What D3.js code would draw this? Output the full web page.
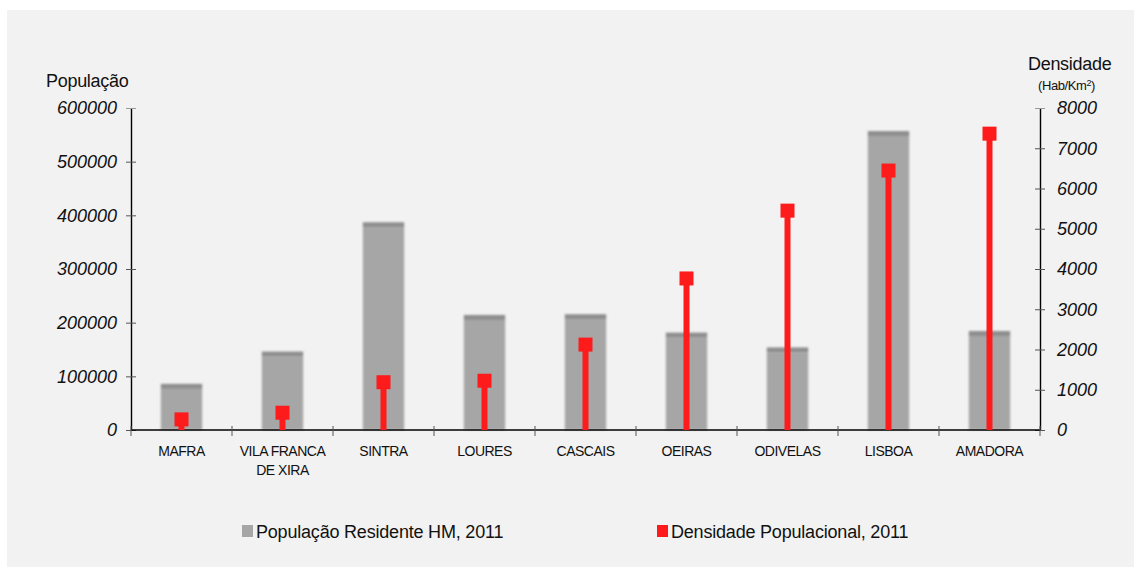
<!DOCTYPE html>
<html>
<head>
<meta charset="utf-8">
<script src="https://cdn.jsdelivr.net/npm/d3@7"></script>
<style>
  html, body { margin: 0; padding: 0; background: #fff; }
  svg text { font-family: "Liberation Sans", Arial, sans-serif; fill: #111; }
</style>
</head>
<body>
<script>
// data
const concelhos = ["MAFRA", "VILA FRANCA DE XIRA", "SINTRA", "LOURES", "CASCAIS", "OEIRAS", "ODIVELAS", "LISBOA", "AMADORA"];
const labelLines = [["MAFRA"], ["VILA FRANCA", "DE XIRA"], ["SINTRA"], ["LOURES"], ["CASCAIS"], ["OEIRAS"], ["ODIVELAS"], ["LISBOA"], ["AMADORA"]];
const populacao = [76685, 136886, 377835, 205054, 206479, 172120, 144549, 547733, 175136];
const densidade = [264, 429, 1187, 1224, 2122, 3765, 5450, 6446, 7363];
const popTicks = [0, 100000, 200000, 300000, 400000, 500000, 600000];
const densTicks = [0, 1000, 2000, 3000, 4000, 5000, 6000, 7000, 8000];

const width = 1134, height = 567;
const margin = {top: 108, right: 94, bottom: 137, left: 131};
const gray = "#a6a6a6", red = "#fd1b1c";

const svg = d3.select("body").append("svg")
    .attr("width", width)
    .attr("height", height);

// panel
svg.append("rect")
    .attr("x", 7).attr("y", 10)
    .attr("width", width - 7).attr("height", height - 10)
    .attr("fill", "#f2f2f2");

const defs = svg.append("defs");
defs.append("filter").attr("id", "soft")
  .append("feGaussianBlur").attr("stdDeviation", 0.8);

const x = d3.scaleBand()
    .domain(concelhos)
    .range([margin.left, width - margin.right])
    .paddingInner(0).paddingOuter(0);

const yPop = d3.scaleLinear()
    .domain([0, 600000])
    .range([height - margin.bottom, margin.top]);

const yDens = d3.scaleLinear()
    .domain([0, 8000])
    .range([height - margin.bottom, margin.top]);

const barW = x.bandwidth() * 0.41;
const cx = d => x(d) + x.bandwidth() / 2;

// bars (populacao)
const bars = svg.append("g").attr("filter", "url(#soft)");
bars.selectAll("rect.bar")
  .data(concelhos)
  .join("rect")
    .attr("class", "bar")
    .attr("x", d => cx(d) - barW / 2)
    .attr("y", (d, i) => yPop(populacao[i]))
    .attr("width", barW)
    .attr("height", (d, i) => yPop(0) - yPop(populacao[i]))
    .attr("fill", gray);
bars.selectAll("rect.top")
  .data(concelhos)
  .join("rect")
    .attr("class", "top")
    .attr("x", d => cx(d) - barW / 2)
    .attr("y", (d, i) => yPop(populacao[i]) - 5)
    .attr("width", barW)
    .attr("height", 5)
    .attr("fill", "#8e8e8e");

// axes
const left = svg.append("g")
    .attr("transform", `translate(${margin.left},0)`)
    .call(d3.axisLeft(yPop).tickValues(popTicks).tickFormat(d3.format("d"))
      .tickSizeInner(5).tickSizeOuter(0).tickPadding(9));

const right = svg.append("g")
    .attr("transform", `translate(${width - margin.right},0)`)
    .call(d3.axisRight(yDens).tickValues(densTicks).tickFormat(d3.format("d"))
      .tickSizeInner(5).tickSizeOuter(0).tickPadding(12));

[left, right].forEach(g => {
  g.select(".domain").attr("stroke", "#000").attr("stroke-width", 1.4);
  g.selectAll(".tick line").attr("stroke", "#555")
    .attr("x1", -5).attr("x2", 5);
  g.selectAll(".tick text")
    .attr("font-size", 18).attr("font-style", "italic")
    .attr("fill", "#111").attr("font-family", "Liberation Sans, Arial, sans-serif");
});
left.selectAll(".tick").filter(d => d === 600000).select("line").attr("stroke", "#999");
right.selectAll(".tick").filter(d => d === 8000).select("line").attr("stroke", "#999");

// x axis
const xg = svg.append("g")
    .attr("transform", `translate(0,${yPop(0)})`);
xg.append("line")
    .attr("x1", margin.left).attr("x2", width - margin.right)
    .attr("stroke", "#000").attr("stroke-width", 1.4);
const bounds = concelhos.map(d => x(d)).concat([x(concelhos[concelhos.length - 1]) + x.bandwidth()]);
xg.selectAll("line.tk")
  .data(bounds)
  .join("line")
    .attr("class", "tk")
    .attr("x1", d => d).attr("x2", d => d)
    .attr("y1", -4).attr("y2", 6)
    .attr("stroke", "#555");
xg.selectAll("text")
  .data(concelhos)
  .join("text")
    .attr("text-anchor", "middle")
    .attr("font-size", 14)
    .attr("letter-spacing", -0.5)
    .attr("fill", "#222")
    .each(function(d, i) {
      d3.select(this).selectAll("tspan")
        .data(labelLines[i])
        .join("tspan")
          .attr("x", cx(d))
          .attr("y", (t, j) => 26 + j * 19)
          .text(t => t);
    });

// densidade stems + markers
const dens = svg.append("g");
dens.selectAll("rect.stem")
  .data(concelhos)
  .join("rect")
    .attr("class", "stem")
    .attr("x", d => cx(d) - 3)
    .attr("y", (d, i) => yDens(densidade[i]))
    .attr("width", 6)
    .attr("height", (d, i) => yDens(0) - yDens(densidade[i]))
    .attr("fill", red);
dens.selectAll("rect.mk")
  .data(concelhos)
  .join("rect")
    .attr("class", "mk")
    .attr("x", d => cx(d) - 7)
    .attr("y", (d, i) => yDens(densidade[i]) - 7)
    .attr("width", 14)
    .attr("height", 14)
    .attr("fill", red);

// axis titles
svg.append("text")
    .attr("x", 46).attr("y", 87)
    .attr("font-size", 18).attr("letter-spacing", -0.3)
    .text("População");
svg.append("text")
    .attr("x", 1028).attr("y", 70)
    .attr("font-size", 18).attr("letter-spacing", -0.3)
    .text("Densidade");
const unit = svg.append("text")
    .attr("x", 1038).attr("y", 90)
    .attr("font-size", 13).attr("letter-spacing", -0.4);
unit.append("tspan").text("(Hab/Km");
unit.append("tspan").attr("font-size", 9).attr("dy", -4).text("2");
unit.append("tspan").attr("dy", 4).text(")");

// legend
const legendItems = [
  {label: "População Residente HM, 2011", color: gray, x: 242},
  {label: "Densidade Populacional, 2011", color: red, x: 657}
];
const legend = svg.append("g");
legend.selectAll("rect")
  .data(legendItems)
  .join("rect")
    .attr("x", d => d.x).attr("y", 525)
    .attr("width", 11).attr("height", 12)
    .attr("fill", d => d.color);
legend.selectAll("text")
  .data(legendItems)
  .join("text")
    .attr("x", d => d.x + 14).attr("y", 538)
    .attr("font-size", 18).attr("letter-spacing", -0.2)
    .text(d => d.label);
</script>
</body>
</html>
